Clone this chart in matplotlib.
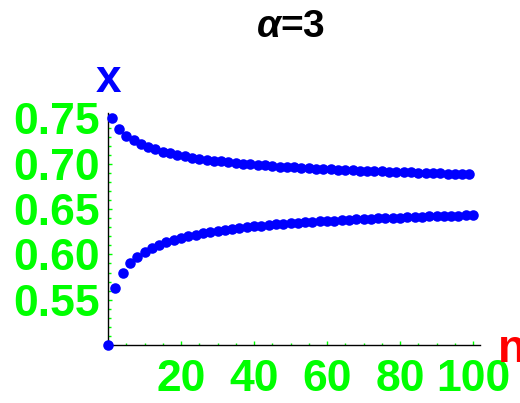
import numpy as np
import matplotlib
matplotlib.use("Agg")
import matplotlib.pyplot as plt
from matplotlib.ticker import MultipleLocator, FixedLocator

plt.rcParams["font.family"] = ["Liberation Sans", "DejaVu Sans"]
plt.rcParams["mathtext.fontset"] = "custom"
plt.rcParams["mathtext.it"] = "Liberation Sans:bold:italic"
plt.rcParams["mathtext.rm"] = "Liberation Sans:bold"

# Upper branch (odd n = 1, 3, ..., 99)
x_upper = [
    0.75000, 0.73828, 0.73096, 0.72572, 0.72168, 0.71844, 0.71575, 0.71346,
    0.71149, 0.70976, 0.70822, 0.70685, 0.70561, 0.70448, 0.70345, 0.70251,
    0.70163, 0.70082, 0.70007, 0.69936, 0.69870, 0.69808, 0.69750, 0.69695,
    0.69642, 0.69593, 0.69546, 0.69501, 0.69458, 0.69418, 0.69379, 0.69341,
    0.69305, 0.69271, 0.69238, 0.69206, 0.69176, 0.69146, 0.69118, 0.69090,
    0.69064, 0.69038, 0.69013, 0.68989, 0.68966, 0.68943, 0.68921, 0.68900,
    0.68879, 0.68859,
]

# Lower branch (even n = 0, 2, ..., 100)
x_lower = [
    0.50000, 0.56250, 0.57967, 0.58997, 0.59716, 0.60257, 0.60686, 0.61036,
    0.61331, 0.61582, 0.61801, 0.61993, 0.62164, 0.62317, 0.62456, 0.62582,
    0.62697, 0.62803, 0.62901, 0.62991, 0.63076, 0.63155, 0.63229, 0.63298,
    0.63363, 0.63425, 0.63483, 0.63539, 0.63591, 0.63641, 0.63689, 0.63734,
    0.63777, 0.63819, 0.63859, 0.63897, 0.63934, 0.63969, 0.64003, 0.64035,
    0.64067, 0.64097, 0.64127, 0.64155, 0.64182, 0.64209, 0.64235, 0.64260,
    0.64284, 0.64307, 0.64330,
]

n_upper = np.arange(1, 2 * len(x_upper), 2)
n_lower = np.arange(0, 2 * len(x_lower), 2)

x_ticks = [20, 40, 60, 80, 100]
y_ticks = [0.55, 0.60, 0.65, 0.70, 0.75]
y_tick_labels = ["0.55", "0.60", "0.65", "0.70", "0.75"]

green = "#00FF00"

fig = plt.figure(figsize=(5.2, 4.03), dpi=100)
ax = fig.add_axes([108 / 520, 58 / 403, 372 / 520, 232 / 403])

ax.plot(n_upper, x_upper, "o", color="#0000FF", markersize=7.6,
        markeredgewidth=0, clip_on=False, zorder=5)
ax.plot(n_lower, x_lower, "o", color="#0000FF", markersize=7.6,
        markeredgewidth=0, clip_on=False, zorder=5)

ax.set_xlim(0, 101.9)
ax.set_ylim(0.5, 0.756)

for side in ["top", "right"]:
    ax.spines[side].set_visible(False)
for side in ["left", "bottom"]:
    ax.spines[side].set_color("black")
    ax.spines[side].set_linewidth(1.0)

ax.xaxis.set_major_locator(FixedLocator(x_ticks))
ax.xaxis.set_minor_locator(MultipleLocator(5))
ax.set_yticks(y_ticks)
ax.set_yticklabels(y_tick_labels)
ax.yaxis.set_minor_locator(MultipleLocator(0.01))

ax.tick_params(which="both", direction="in", color=green, width=1.0)
ax.tick_params(which="major", length=3.0)
ax.tick_params(which="minor", length=1.8)
ax.tick_params(axis="x", which="major", pad=10, labelsize=32, labelcolor=green)
ax.tick_params(axis="y", which="major", pad=6, labelsize=32, labelcolor=green)

for lbl in ax.get_xticklabels() + ax.get_yticklabels():
    lbl.set_fontweight("bold")

# Axis labels placed like Mathematica's AxesLabel
fig.text(108 / 520, 1 - 92 / 403, "x", color="#0000FF", fontsize=33,
         fontweight="bold", ha="center", va="baseline")
fig.text(498 / 520, 1 - 362 / 403, "n", color="#FF0000", fontsize=33,
         fontweight="bold", ha="left", va="baseline")

# Title
fig.text(291 / 520, 1 - 37 / 403, r"$\alpha$=3", color="black", fontsize=28,
         fontweight="bold", ha="center", va="baseline")

fig.savefig("out.png", dpi=100)
